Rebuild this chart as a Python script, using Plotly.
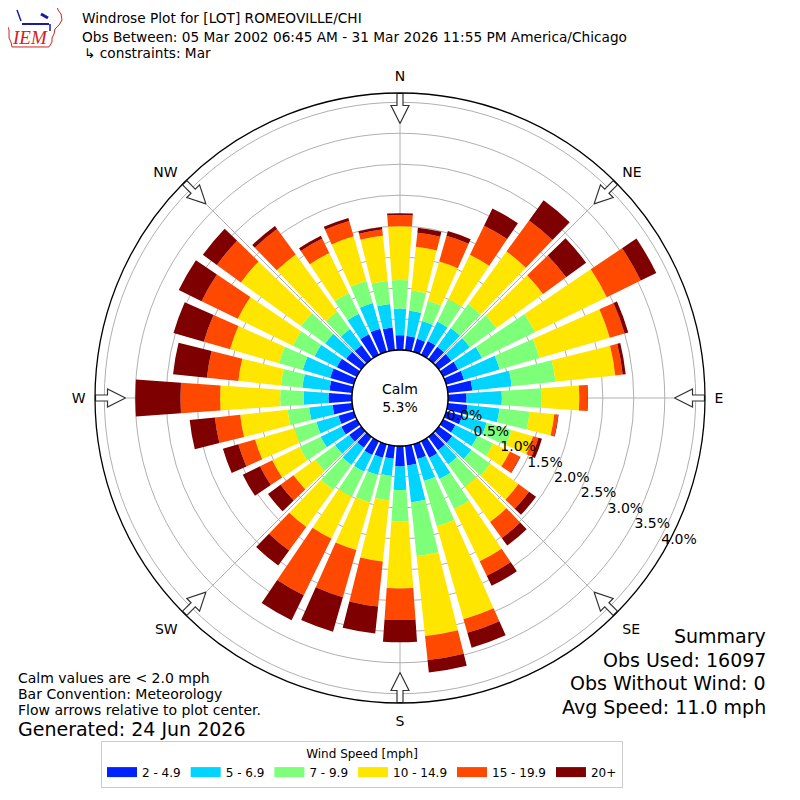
import math
import plotly.graph_objects as go

# wind directions (deg, meteorological) and speed bins
directions = list(range(0, 360, 10))
speed_bins = ['2 - 4.9', '5 - 6.9', '7 - 9.9', '10 - 14.9', '15 - 19.9', '20+']
bin_colors = ['#0022ff', '#00d4ff', '#7dff7a', '#ffe600', '#ff4800', '#7f0000']

# frequency [%] of each speed bin per direction (0, 10, ... 350)
pct_2_5 = [0.24, 0.23, 0.22, 0.25, 0.25, 0.25, 0.27, 0.30, 0.40, 0.30, 0.32, 0.27,
           0.22, 0.27, 0.27, 0.30, 0.25, 0.32, 0.33, 0.21, 0.23, 0.25, 0.22, 0.24,
           0.28, 0.26, 0.32, 0.38, 0.37, 0.40, 0.36, 0.30, 0.28, 0.37, 0.39, 0.37]
pct_5_7 = [0.43, 0.41, 0.30, 0.35, 0.37, 0.37, 0.43, 0.60, 0.64, 0.57, 0.52, 0.41,
           0.40, 0.38, 0.28, 0.38, 0.37, 0.60, 0.38, 0.28, 0.29, 0.30, 0.34, 0.28,
           0.37, 0.37, 0.38, 0.40, 0.44, 0.46, 0.40, 0.42, 0.32, 0.37, 0.43, 0.38]
pct_7_10 = [0.46, 0.33, 0.34, 0.40, 0.48, 0.53, 0.95, 0.67, 0.71, 0.64, 0.49, 0.42,
            0.28, 0.38, 0.45, 0.54, 0.76, 0.87, 0.51, 0.40, 0.46, 0.45, 0.50, 0.40,
            0.38, 0.37, 0.35, 0.38, 0.35, 0.40, 0.39, 0.48, 0.35, 0.37, 0.37, 0.38]
pct_10_15 = [0.87, 0.71, 0.66, 0.80, 1.05, 0.93, 1.29, 1.18, 0.97, 0.61, 0.40, 0.36,
             0.30, 0.56, 0.70, 0.94, 1.56, 1.30, 1.08, 0.99, 0.80, 0.75, 0.74, 0.43,
             0.49, 0.66, 0.77, 0.97, 0.69, 0.82, 0.99, 1.20, 1.14, 0.72, 0.75, 0.73]
pct_15_20 = [0.18, 0.23, 0.43, 0.52, 0.62, 0.46, 0.61, 0.25, 0.12, 0.13, 0.06, 0.09,
             0.18, 0.21, 0.32, 0.26, 0.23, 0.39, 0.51, 0.73, 0.79, 1.02, 0.47, 0.26,
             0.22, 0.28, 0.41, 0.64, 0.51, 0.44, 0.65, 0.48, 0.51, 0.26, 0.26, 0.10]
pct_20_up = [0.03, 0.08, 0.08, 0.31, 0.40, 0.40, 0.28, 0.06, 0.05, 0.01, 0.01, 0.06,
             0.01, 0.14, 0.15, 0.18, 0.25, 0.20, 0.36, 0.44, 0.58, 0.45, 0.30, 0.25,
             0.31, 0.26, 0.41, 0.73, 0.55, 0.51, 0.41, 0.28, 0.06, 0.05, 0.05, 0.04]
series = [pct_2_5, pct_5_7, pct_7_10, pct_10_15, pct_15_20, pct_20_up]

radial_ticks = [0.0, 0.5, 1.0, 1.5, 2.0, 2.5, 3.0, 3.5, 4.0]
compass_angles = [0, 45, 90, 135, 180, 225, 270, 315]
compass_labels = ['N', 'NE', 'E', 'SE', 'S', 'SW', 'W', 'NW']

calm_pct = 5.3
summary = ['Summary', 'Obs Used: 16097', 'Obs Without Wind: 0', 'Avg Speed: 11.0 mph']
notes = ['Calm values are < 2.0 mph', 'Bar Convention: Meteorology',
         'Flow arrows relative to plot center.']

FONT = 'DejaVu Sans'
W = H = 800
PAGE_OFF = 8          # browser body margin
CX, CY = 400, 398     # rose centre (page px)
R_OUT, R_HOLE = 305, 48
RMAX = 4.15
PX_PER_UNIT = (R_OUT - R_HOLE) / RMAX

fig = go.Figure()

for vals, name, color in zip(series, speed_bins, bin_colors):
    fig.add_trace(go.Barpolar(r=vals, theta=directions, width=8, name=name,
                              marker=dict(color=color, line=dict(width=0)),
                              showlegend=False, hoverinfo='skip'))
    # legend-only entry drawn as a wide colour patch
    fig.add_trace(go.Scatterpolar(r=[None], theta=[None], mode='lines', name=name,
                                  line=dict(color=color, width=10), hoverinfo='skip'))

# black ring around the calm circle
ring_theta = list(range(0, 361, 3))
fig.add_trace(go.Scatterpolar(r=[0] * len(ring_theta), theta=ring_theta, mode='lines',
                              line=dict(color='black', width=1.3),
                              showlegend=False, hoverinfo='skip'))

# hollow flow arrows at the rim pointing to the centre
# outline in (inward distance from rim, lateral offset) pixels
arrow_shape = [(0, -3), (12, -3), (12, -9), (30, 0), (12, 9), (12, 3), (0, 3), (0, -3)]
for a in compass_angles:
    rr, tt = [], []
    for s, w in arrow_shape:
        rho = R_OUT - 0.5 - s
        rr.append((math.hypot(rho, w) - R_HOLE) / PX_PER_UNIT)
        tt.append(a + math.degrees(math.atan2(w, rho)))
    fig.add_trace(go.Scatterpolar(r=rr, theta=tt, mode='lines', fill='toself',
                                  fillcolor='white', line=dict(color='#333333', width=1.2),
                                  showlegend=False, hoverinfo='skip'))

def px_x(px):
    return (px - PAGE_OFF) / W

def px_y(py):
    return 1 - (py - PAGE_OFF) / H

fig.update_layout(
    width=W, height=H,
    margin=dict(l=0, r=0, t=0, b=0),
    paper_bgcolor='white',
    font=dict(family=FONT, size=14, color='black'),
    polar=dict(
        domain=dict(x=[px_x(CX - R_OUT), px_x(CX + R_OUT)],
                    y=[px_y(CY + R_OUT), px_y(CY - R_OUT)]),
        hole=R_HOLE / R_OUT,
        bgcolor='white',
        barmode='stack',
        angularaxis=dict(direction='clockwise', rotation=90, layer='above traces',
                         tickmode='array', tickvals=compass_angles, ticktext=compass_labels,
                         showline=True, linecolor='black', linewidth=1.3,
                         showgrid=True, gridcolor='#b0b0b0', gridwidth=1,
                         ticks='outside', ticklen=6, tickcolor='rgba(0,0,0,0)',
                         tickfont=dict(size=14, color='black')),
        radialaxis=dict(range=[0, RMAX], tickmode='array', tickvals=radial_ticks,
                        ticktext=['%.1f%%' % v for v in radial_ticks],
                        angle=-30, tickangle=-30, side='counterclockwise',
                        layer='above traces', showline=False, ticks='',
                        showgrid=True, gridcolor='#b0b0b0', gridwidth=1,
                        tickfont=dict(size=14, color='black')),
    ),
    legend=dict(orientation='h', x=px_x(362), xanchor='center', y=px_y(741), yanchor='top',
                bordercolor='#cccccc', borderwidth=1, bgcolor='white',
                font=dict(size=12),
                title=dict(text='Wind Speed [mph]', side='top center', font=dict(size=12))),
)

def note(text, px, py, size=14, anchor='left', color='black', family=FONT):
    fig.add_annotation(text=text, x=px_x(px), y=px_y(py), xref='paper', yref='paper',
                       xanchor=anchor, yanchor='middle', showarrow=False,
                       font=dict(size=size, color=color, family=family))

note('Windrose Plot for [LOT] ROMEOVILLE/CHI', 80, 18, size=13.7)
note('Obs Between: 05 Mar 2002 06:45 AM - 31 Mar 2026 11:55 PM America/Chicago', 80, 37, size=13.7)
note('\u21b3 constraints: Mar', 82, 53, size=13.7)

# small IEM logo: state outline, wind icon and letters
outline = [(7, 6), (57, 6), (58, 10), (61, 14), (62, 20), (59, 25), (55, 29), (54, 34),
           (52, 38), (52, 42), (49, 47), (12, 47), (11, 42), (9, 38), (9, 30), (7, 25),
           (7, 15), (6, 10)]
path = 'M ' + ' L '.join('%.4f,%.4f' % (px_x(x), px_y(y)) for x, y in outline) + ' Z'
fig.add_shape(type='path', path=path, xref='paper', yref='paper',
              line=dict(color='#d62020', width=1))
for (x0, y0), (x1, y1), lw in [((22, 24), (49, 24), 2), ((17, 10), (21, 21), 1.5),
                               ((41, 14), (48, 18), 3), ((50, 24), (50, 31), 1.5)]:
    fig.add_shape(type='line', x0=px_x(x0), y0=px_y(y0), x1=px_x(x1), y1=px_y(y1),
                  xref='paper', yref='paper', line=dict(color='#1a1aa8', width=lw))
note('<i>IEM</i>', 30, 38, size=19, anchor='center', color='#d62020', family='Liberation Serif')

for i, t in enumerate(notes):
    note(t, 16, 678 + i * 16)
note('Generated: 24 Jun 2026', 16, 729, size=19)

for i, t in enumerate(summary):
    note(t, 768, 636 + i * 23.5, size=19, anchor='right')

fig.add_annotation(text='Calm<br>%.1f%%' % calm_pct, x=px_x(CX), y=px_y(CY),
                   xref='paper', yref='paper', showarrow=False,
                   font=dict(size=14, color='black', family=FONT))

fig.write_html('out.html')
